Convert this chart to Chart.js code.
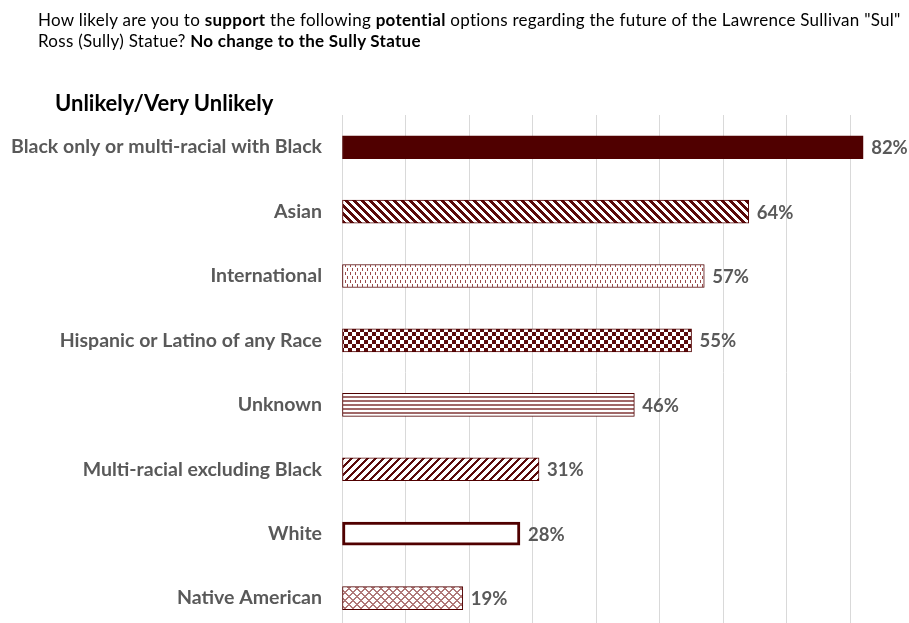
<!DOCTYPE html>
<html>
<head>
<meta charset="utf-8">
<script src="https://cdn.jsdelivr.net/npm/chart.js@4.4.0/dist/chart.umd.min.js"></script>
<style>
  html, body { margin: 0; padding: 0; background: #fff; overflow: hidden; width: 909px; height: 623px; }
  #wrap { position: absolute; left: 0; top: 0; width: 916px; height: 654px; }
  #question { position: absolute; left: 38px; top: 9px; width: 880px; white-space: nowrap; font-family: Lato, sans-serif; font-size: 17px; letter-spacing: 0.27px; line-height: 21px; color: #000; }
  #subtitle { position: absolute; left: 55px; top: 91px; font-family: Lato, sans-serif; font-weight: bold; font-size: 22px; line-height: 24px; color: #000; }
</style>
</head>
<body>
<div id="wrap"><canvas id="chart"></canvas></div>
<div id="question">How likely are you to <b>support</b> the following <b>potential</b> options regarding the future of the Lawrence Sullivan "Sul"<br>Ross (Sully) Statue? <b>No change to the Sully Statue</b></div>
<div id="subtitle">Unlikely/Very Unlikely</div>
<script>
// data
const groups = ['Black only or multi-racial with Black', 'Asian', 'International', 'Hispanic or Latino of any Race',
  'Unknown', 'Multi-racial excluding Black', 'White', 'Native American'];
const unlikelyPct = [82, 64, 57, 55, 46, 31, 28, 19];

const maroon = '#500000';

// little pixel tiles for the excel-style pattern fills
function tile(w, h, color, test) {
  const c = document.createElement('canvas');
  c.width = w; c.height = h;
  const g = c.getContext('2d');
  g.fillStyle = '#fff';
  g.fillRect(0, 0, w, h);
  g.fillStyle = color;
  for (let x = 0; x < w; x++) {
    for (let y = 0; y < h; y++) {
      if (test(x, y)) g.fillRect(x, y, 1, 1);
    }
  }
  return document.getElementById('chart').getContext('2d').createPattern(c, 'repeat');
}

const fills = [
  maroon,
  tile(8, 8, '#5a0a0a', (x, y) => ((x - y + 16) % 8) < 4),              // wide down diagonal
  tile(5, 8, '#9a4a4a', (x, y) => (x == 0 && y < 3) || (x == 2 && y >= 4 && y < 7)), // dashed vertical
  tile(8, 8, '#5a0a0a', (x, y) => (Math.floor(x / 4) + Math.floor(y / 4)) % 2 == 0), // checkerboard
  tile(4, 4, '#a06868', (x, y) => y < 2),                                 // horizontal lines
  tile(8, 8, '#5a0a0a', (x, y) => ((x + y) % 8) < 3),                     // wide up diagonal
  '#ffffff',
  tile(8, 8, '#b07878', (x, y) => ((x + y) % 8) < 2 || ((x - y + 16) % 8) < 2) // diagonal cross
];
const borders = [1, 1, 1, 1, 1, 1, 3, 1];

// value labels at the end of each bar
const barLabels = {
  id: 'barLabels',
  afterDatasetsDraw(chart) {
    const ctx = chart.ctx;
    const meta = chart.getDatasetMeta(0);
    ctx.save();
    ctx.font = 'bold 18.5px Lato';
    ctx.fillStyle = '#595959';
    ctx.textBaseline = 'middle';
    meta.data.forEach((bar, i) => {
      ctx.fillText(unlikelyPct[i] + '%', bar.x + 8, bar.y + 1);
    });
    ctx.restore();
  }
};

const ctx = document.getElementById('chart').getContext('2d');
const myChart = new Chart(ctx, {
  type: 'bar',
  data: {
    labels: groups,
    datasets: [{
      data: unlikelyPct,
      backgroundColor: fills,
      borderColor: maroon,
      borderWidth: borders,
      borderSkipped: false,
      barThickness: 23
    }]
  },
  options: {
    indexAxis: 'y',
    responsive: true,
    maintainAspectRatio: false,
    animation: false,
    layout: { padding: { top: 115, right: 2, bottom: 3, left: 0 } },
    plugins: { legend: { display: false }, tooltip: { enabled: false } },
    scales: {
      x: {
        min: 0,
        max: 90,
        ticks: { display: false, stepSize: 10 },
        grid: { color: '#d9d9d9', drawTicks: false },
        border: { display: false },
        afterFit(scale) { scale.height = 0; }
      },
      y: {
        grid: { display: false },
        border: { display: false },
        ticks: {
          color: '#595959',
          padding: 12,
          autoSkip: false,
          font: { family: 'Lato', weight: 'bold', size: 19.5 }
        },
        afterFit(scale) { scale.width = 342; }
      }
    }
  },
  plugins: [barLabels]
});
</script>
</body>
</html>
